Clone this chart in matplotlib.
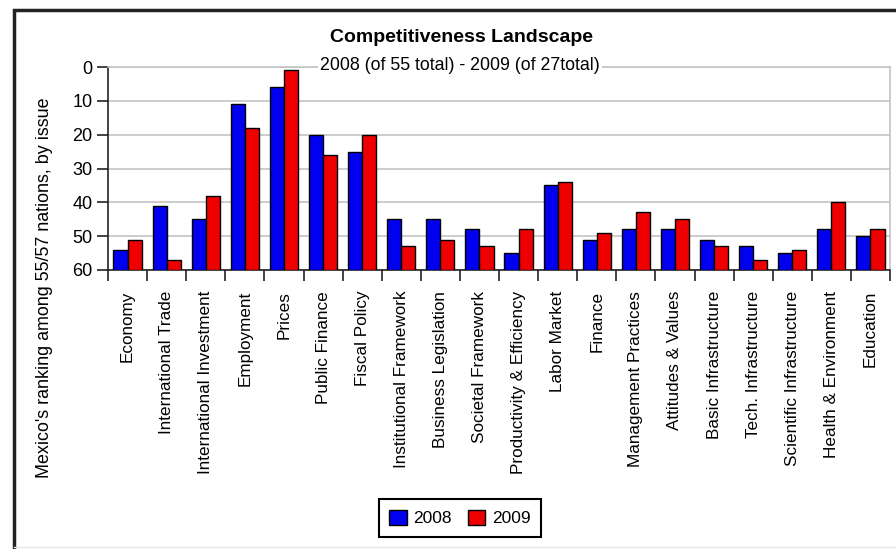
import numpy as np
import matplotlib
matplotlib.use("Agg")
import matplotlib.pyplot as plt
from matplotlib.patches import Patch, Rectangle

# Ranking de México por tema (1 = mejor)
temas = ["Economy", "International Trade", "International Investment", "Employment",
         "Prices", "Public Finance", "Fiscal Policy", "Institutional Framework",
         "Business Legislation", "Societal Framework", "Productivity & Efficiency",
         "Labor Market", "Finance", "Management Practices", "Attitudes & Values",
         "Basic Infrastructure", "Tech. Infrastructure", "Scientific Infrastructure",
         "Health & Environment", "Education"]
rank_2008 = [54, 41, 45, 11, 6, 20, 25, 45, 45, 48, 55, 35, 51, 48, 48, 51, 53, 55, 48, 50]
rank_2009 = [51, 57, 38, 18, 1, 26, 20, 53, 51, 53, 48, 34, 49, 43, 45, 53, 57, 54, 40, 48]
y_ticks = [0, 10, 20, 30, 40, 50, 60]

fuente = ["Liberation Sans", "DejaVu Sans"]
azul = "#0000ee"
rojo = "#ee0000"
gris = "#c4c4c4"

fig = plt.figure(figsize=(8.96, 5.49), dpi=100)
ax = fig.add_axes([108 / 896, 1 - 270 / 549, 782 / 896, 203 / 549])

x = np.arange(len(temas))
ancho = 0.36
# barras desde el fondo (60) hasta la posición del ranking
ax.bar(x - ancho / 2, np.array(rank_2008) - 60, bottom=60, width=ancho,
       color=azul, edgecolor="black", linewidth=1, zorder=3)
ax.bar(x + ancho / 2, np.array(rank_2009) - 60, bottom=60, width=ancho,
       color=rojo, edgecolor="black", linewidth=1, zorder=3)

ax.set_ylim(60, 0)
ax.set_xlim(-0.5, len(temas) - 0.5)
ax.set_yticks(y_ticks)
ax.set_yticklabels([str(v) for v in y_ticks], family=fuente, fontsize=13)
ax.yaxis.grid(True, color=gris, linewidth=1.2, zorder=0)

# ticks largos entre categorías, etiquetas en el centro
ax.set_xticks(np.arange(len(temas) + 1) - 0.5)
ax.set_xticklabels([])
ax.set_xticks(x, minor=True)
ax.set_xticklabels(temas, minor=True, rotation=90, ha="center", va="top",
                   family=fuente, fontsize=12.3)
ax.tick_params(axis="x", which="major", length=8, width=1.2, color="#222222")
ax.tick_params(axis="x", which="minor", length=0, pad=15)
ax.tick_params(axis="y", length=8, width=1.2, color="#222222", pad=3)

for lado in ["left", "bottom"]:
    ax.spines[lado].set_color("#222222")
    ax.spines[lado].set_linewidth(1.2)
for lado in ["top", "right"]:
    ax.spines[lado].set_color(gris)
    ax.spines[lado].set_linewidth(1.2)

fig.text(461 / 896, 1 - 37 / 549, "Competitiveness Landscape", ha="center", va="center",
         family=fuente, fontsize=14, fontweight="bold")
fig.text(460 / 896, 1 - 66 / 549, "2008 (of 55 total) - 2009 (of 27total)", ha="center",
         va="center", family=fuente, fontsize=12.8,
         bbox=dict(facecolor="white", edgecolor="none", pad=1.5))
fig.text(45 / 896, 1 - 288 / 549, "Mexico's ranking among 55/57 nations, by issue",
         rotation=90, ha="center", va="center", family=fuente, fontsize=12.9)

leyenda = [Patch(facecolor=azul, edgecolor="black", label="2008"),
           Patch(facecolor=rojo, edgecolor="black", label="2009")]
leg = fig.legend(handles=leyenda, loc="center", bbox_to_anchor=(460 / 896, 1 - 518 / 549),
                 ncol=2, frameon=True, fancybox=False, framealpha=1, edgecolor="black",
                 handlelength=1, handleheight=1, handletextpad=0.4, columnspacing=0.9,
                 borderpad=0.6, borderaxespad=0, prop={"family": fuente, "size": 12.5})
leg.get_frame().set_linewidth(1.5)

# marco exterior oscuro arriba e izquierda
fig.patches.append(Rectangle((14 / 896, -0.1), 1.2, 1.1 - 10 / 549, transform=fig.transFigure,
                             fill=False, edgecolor="#222222", linewidth=2.5))
fig.lines.append(plt.Line2D([14 / 896, 1], [1 - 547 / 549] * 2, transform=fig.transFigure,
                            color="#e6e6e6", linewidth=1))

fig.savefig("out.png", dpi=100)
